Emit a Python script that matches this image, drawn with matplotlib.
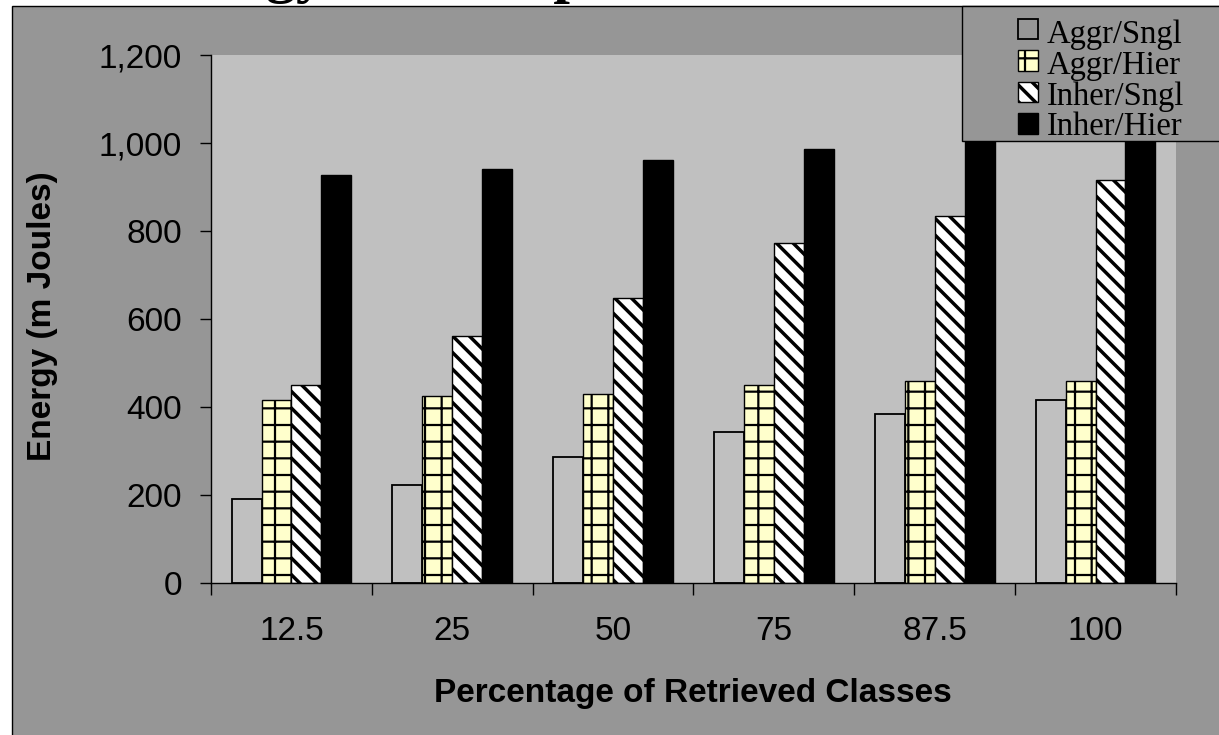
import matplotlib
matplotlib.use("Agg")
import matplotlib.pyplot as plt
from matplotlib.patches import Rectangle
from matplotlib.ticker import FuncFormatter, FixedLocator, NullFormatter
import numpy as np

# ---- data -------------------------------------------------------------
categories = ["12.5", "25", "50", "75", "87.5", "100"]
series_names = ["Aggr/Sngl", "Aggr/Hier", "Inher/Sngl", "Inher/Hier"]
aggr_sngl = [190, 223, 286, 344, 383, 416]
aggr_hier = [417, 426, 430, 450, 460, 460]
inher_sngl = [450, 561, 648, 773, 835, 917]
inher_hier = [928, 942, 961, 986, 1012, 1035]
y_ticks = [0, 200, 400, 600, 800, 1000, 1200]

title_text = "Energy Consumption"
x_label = "Percentage of Retrieved Classes"
y_label = "Energy (m Joules)"

series_values = [aggr_sngl, aggr_hier, inher_sngl, inher_hier]

# ---- styling ----------------------------------------------------------
SANS = ["Liberation Sans", "Arial", "DejaVu Sans"]
SERIF = ["Liberation Serif", "Times New Roman", "DejaVu Serif"]
OUTER_GREY = "#969696"
PLOT_GREY = "#c0c0c0"

bar_styles = [
    dict(facecolor="none", edgecolor="black", hatch=None, lw=1.3, hatch_lw=1.0),
    dict(facecolor="#ffffcc", edgecolor="black", hatch="+", lw=1.0, hatch_lw=1.6),
    dict(facecolor="white", edgecolor="black", hatch="\\\\", lw=1.0, hatch_lw=2.5),
    dict(facecolor="black", edgecolor="black", hatch=None, lw=1.0, hatch_lw=1.0),
]

W, H, DPI = 1219, 735, 100
fig = plt.figure(figsize=(W / DPI, H / DPI), dpi=DPI, facecolor="white")


def fx(px):
    return px / W


def fy(py):
    return 1 - py / H


def frect(x0, y0, x1, y1, **kw):
    """Rectangle given in pixel coordinates (top-left origin)."""
    return Rectangle((fx(x0), fy(y1)), (x1 - x0) / W, (y1 - y0) / H,
                     transform=fig.transFigure, **kw)


# outer chart frame
fig.add_artist(frect(12, 6, 1240, 760, facecolor=OUTER_GREY,
                     edgecolor="black", lw=1.0, zorder=-5))

# title (only its descenders stay on the page)
fig.text(fx(140), fy(-8.5), title_text, family=SERIF, fontweight="bold",
         fontsize=43, ha="left", va="baseline", zorder=-6)

# plot area
ax = fig.add_axes([fx(211), fy(583), (1176 - 211) / W, (583 - 55) / H])
ax.set_facecolor(PLOT_GREY)

x = np.arange(len(categories))
n = len(series_names)
bar_w = 0.186
for i, (name, vals, st) in enumerate(zip(series_names, series_values, bar_styles)):
    offs = (i - (n - 1) / 2) * bar_w
    with plt.rc_context({"hatch.linewidth": st["hatch_lw"]}):
        bars = ax.bar(x + offs, vals, width=bar_w, facecolor=st["facecolor"],
                      edgecolor=st["edgecolor"], hatch=st["hatch"],
                      linewidth=st["lw"], label=name, zorder=2)
        for b in bars:
            if hasattr(b, "set_hatch_linewidth"):
                b.set_hatch_linewidth(st["hatch_lw"])

ax.set_xlim(-0.5, len(categories) - 0.5)
ax.set_ylim(0, 1200)
ax.set_yticks(y_ticks)
ax.yaxis.set_major_formatter(FuncFormatter(lambda v, p: f"{int(v):,}"))

# category separators as major ticks, labels on minor ticks
ax.xaxis.set_major_locator(FixedLocator(np.arange(len(categories) + 1) - 0.5))
ax.xaxis.set_major_formatter(NullFormatter())
ax.xaxis.set_minor_locator(FixedLocator(x))
ax.set_xticks(x, categories, minor=True)

ax.tick_params(axis="y", direction="out", length=8, width=1.0, pad=13,
               labelsize=24, color="black")
ax.tick_params(axis="x", which="major", direction="out", length=8.5, width=1.0,
               color="black")
ax.tick_params(axis="x", which="minor", length=0, pad=24, labelsize=24)
for lab in ax.get_yticklabels() + ax.get_xticklabels(minor=True):
    lab.set_family(SANS)

for s in ("top", "right"):
    ax.spines[s].set_visible(False)
for s in ("left", "bottom"):
    ax.spines[s].set_color("black")
    ax.spines[s].set_linewidth(1.0)

# axis titles
fig.text(fx(693), fy(702), x_label, family=SANS, fontweight="bold",
         fontsize=24, ha="center", va="baseline")
fig.text(fx(43), fy(316), y_label, family=SANS, fontweight="bold",
         fontsize=24, ha="center", va="center", rotation=90)

# legend box (runs past the right edge)
fig.add_artist(frect(962, 6, 1260, 141, facecolor=OUTER_GREY,
                     edgecolor="black", lw=1.0, zorder=5))
for i, (name, st) in enumerate(zip(series_names, bar_styles)):
    cy = 29 + 31.5 * i
    with plt.rc_context({"hatch.linewidth": st["hatch_lw"]}):
        key = frect(1018, cy - 10, 1038, cy + 10, facecolor=st["facecolor"],
                    edgecolor=st["edgecolor"], hatch=st["hatch"],
                    lw=st["lw"], zorder=6)
        if hasattr(key, "set_hatch_linewidth"):
            key.set_hatch_linewidth(st["hatch_lw"])
        fig.add_artist(key)
    fig.text(fx(1047), fy(43.5 + 30.5 * i), name, family=SERIF, fontsize=23.5,
             ha="left", va="baseline", zorder=7)

fig.savefig("out.png", dpi=DPI, facecolor="white")
